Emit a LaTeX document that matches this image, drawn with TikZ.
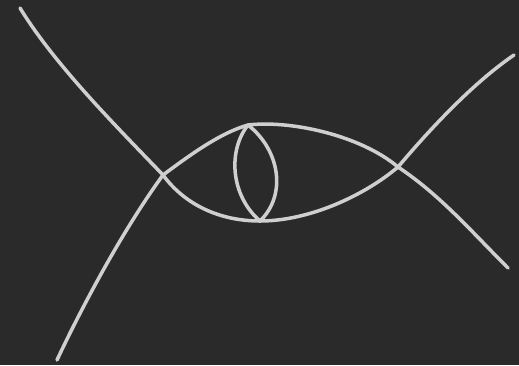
\documentclass[tikz,border=0pt]{standalone}
\usepackage{xcolor}
\definecolor{board}{HTML}{2A2A2A}
\definecolor{wirecol}{HTML}{CFCFCF}
\tikzset{wire/.style={draw=wirecol,line width=2pt,line cap=round,line join=round}}

\begin{document}
\begin{tikzpicture}[x=0.02cm,y=-0.02cm]
          \fill[board] (0,0) rectangle (519,365);
          \useasboundingbox (0,0) rectangle (519,365);
          \coordinate (tl) at (20,8);
          \coordinate (bl) at (57,360);
          \coordinate (tr) at (514,55);
          \coordinate (br) at (508,268);
          \coordinate (L) at (163,175);
          \coordinate (R) at (398,167);
          \coordinate (T) at (248,125);
          \coordinate (B) at (260,221);
          \draw[wire] (tl) .. controls (55,65) and (115,125) .. (L)
                .. controls (185,205) and (220,221) .. (B)
                .. controls (310,221) and (365,195) .. (R)
                .. controls (425,135) and (470,85) .. (tr);
          \draw[wire] (bl) .. controls (90,290) and (130,220) .. (L)
                .. controls (190,155) and (220,133) .. (T)
                .. controls (290,120) and (360,135) .. (R)
                .. controls (440,195) and (470,230) .. (br);
          \draw[wire] (T) .. controls (228,150) and (230,195) .. (B);
          \draw[wire] (T) .. controls (280,150) and (287,195) .. (B);
        \end{tikzpicture}
\end{document}
